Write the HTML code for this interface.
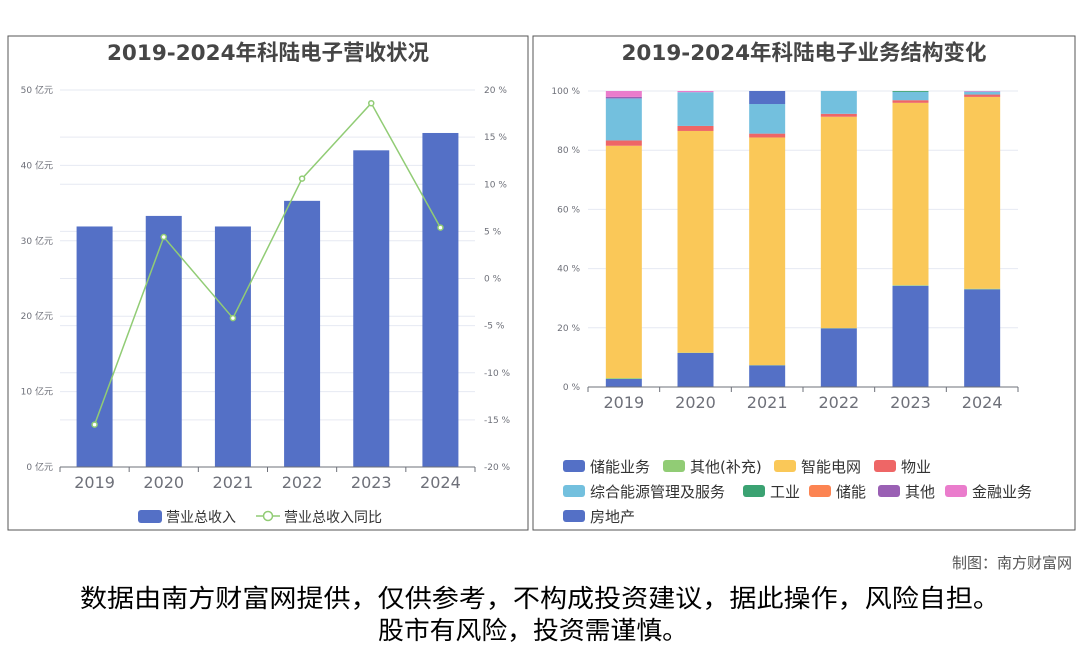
<!DOCTYPE html>
<html><head><meta charset="utf-8">
<style>
body{margin:0;width:1080px;height:646px;background:#fff;overflow:hidden;font-family:"DejaVu Sans","Noto Sans CJK SC",sans-serif;}
svg text{font-family:"DejaVu Sans","Noto Sans CJK SC",sans-serif;}
</style></head>
<body>
<svg id="s" width="1080" height="646">
<rect x="8" y="36" width="520" height="494" fill="none" stroke="#555" stroke-width="1"/>
<rect x="533" y="36" width="542" height="494" fill="none" stroke="#555" stroke-width="1"/>
<text x="268" y="60" text-anchor="middle" font-size="21.5" font-weight="bold" fill="#464646">2019-2024年科陆电子营收状况</text>
<text x="804" y="60" text-anchor="middle" font-size="21.5" font-weight="bold" fill="#464646">2019-2024年科陆电子业务结构变化</text>
<g id="L"></g><g id="R"></g>
<text x="1072" y="568" text-anchor="end" font-size="15" fill="#555">制图：南方财富网</text>
<text x="80" y="607" font-size="25" fill="#000" textLength="920" lengthAdjust="spacingAndGlyphs">数据由南方财富网提供，仅供参考，不构成投资建议，据此操作，风险自担。</text>
<text x="378" y="639" font-size="25" fill="#000" textLength="310" lengthAdjust="spacingAndGlyphs">股市有风险，投资需谨慎。</text>
</svg>
<script>
const years=["2019","2020","2021","2022","2023","2024"];
const revenue=[31.9,33.3,31.9,35.3,42.0,44.3];
const growth=[-15.5,4.4,-4.2,10.6,18.6,5.4];
const leftTicks=[0,10,20,30,40,50];
const rightTicks=[-20,-15,-10,-5,0,5,10,15,20];
const seriesNames=["储能业务","其他(补充)","智能电网","物业","综合能源管理及服务","工业","储能","其他","金融业务","房地产"];
const seriesColors=["#5470c6","#91cc75","#fac858","#ee6666","#73c0de","#3ba272","#fc8452","#9a60b4","#ea7ccc","#5470c6"];
const s_chuneng=[2.7,11.5,7.3,19.8,34.2,33.0];
const s_qitabc=[0.3,0.1,0.1,0.1,0.2,0.2];
const s_grid=[78.5,74.9,76.9,71.4,61.6,64.8];
const s_wuye=[1.8,1.7,1.3,1.0,0.9,0.8];
const s_energy=[14.2,11.4,10.0,7.7,2.8,1.0];
const s_gongye=[0,0,0,0,0.3,0];
const s_cn=[0,0,0,0,0,0];
const s_qita=[0.5,0,0,0,0,0];
const s_jinrong=[2.0,0.4,0,0,0,0.2];
const s_fangdichan=[0,0,4.4,0,0,0];
const pctTicks=[0,20,40,60,80,100];
const NS="http://www.w3.org/2000/svg";
function mk(p,t,a){const e=document.createElementNS(NS,t);for(const k in a)e.setAttribute(k,a[k]);p.appendChild(e);return e;}
const L=document.getElementById('L');
const lx0=60,lx1=475,ly0=467,ly1=90;
const ly=v=>ly0-(v/50)*(ly0-ly1);
const ry=v=>ly0-((v+20)/40)*(ly0-ly1);
const lbw=(lx1-lx0)/years.length;
const lcx=i=>lx0+lbw*(i+0.5);
rightTicks.forEach(t=>{const l=mk(L,'line',{x1:lx0,x2:lx1,y1:ry(t),y2:ry(t),stroke:'#e6e9f2'});
const tx=mk(L,'text',{x:484,y:ry(t)+3,'font-size':9,fill:'#6e7079'});tx.textContent=t+' %';});
leftTicks.forEach(t=>{const l=mk(L,'line',{x1:lx0,x2:lx1,y1:ly(t),y2:ly(t),stroke:'#e6e9f2'});
const tx=mk(L,'text',{x:53,y:ly(t)+3,'font-size':9,fill:'#6e7079','text-anchor':'end'});tx.textContent=t+' 亿元';});
years.forEach((y,i)=>{const r=mk(L,'rect',{x:lcx(i)-18,y:ly(revenue[i]),width:36,height:ly0-ly(revenue[i]),fill:'#5470c6'});

const t=mk(L,'text',{x:lcx(i),y:488,'font-size':16,fill:'#6e7079','text-anchor':'middle'});t.textContent=y;
mk(L,'line',{x1:lx0+lbw*i,x2:lx0+lbw*i,y1:ly0,y2:ly0+5,stroke:'#6e7079'});});
mk(L,'line',{x1:lx1,x2:lx1,y1:ly0,y2:ly0+5,stroke:'#6e7079'});
const ax=mk(L,'line',{x1:lx0,x2:lx1,y1:ly0,y2:ly0,stroke:'#6e7079'});
const pl=mk(L,'polyline',{points:growth.map((g,i)=>lcx(i)+','+ry(g)).join(' '),fill:'none',stroke:'#91cc75','stroke-width':1.5});

growth.forEach((g,i)=>{const c=mk(L,'circle',{cx:lcx(i),cy:ry(g),r:2.5,fill:'#fff',stroke:'#91cc75','stroke-width':1.5});});
let lg=mk(L,'rect',{x:138,y:510,width:24,height:13,rx:3,fill:'#5470c6'});
let lt=mk(L,'text',{x:166,y:522,'font-size':14,fill:'#333'});lt.textContent='营业总收入';
mk(L,'line',{x1:256,x2:280,y1:516,y2:516,stroke:'#91cc75','stroke-width':1.5});
mk(L,'circle',{cx:268,cy:516,r:4.5,fill:'#fff',stroke:'#91cc75','stroke-width':1.5});
lt=mk(L,'text',{x:284,y:522,'font-size':14,fill:'#333'});lt.textContent='营业总收入同比';
const R=document.getElementById('R');
const rx0=588,rx1=1018,py0=387,py1=91;
const py=v=>py0-(v/100)*(py0-py1);
const rbw=(rx1-rx0)/years.length;
const rcx=i=>rx0+rbw*(i+0.5);
pctTicks.forEach(t=>{const l=mk(R,'line',{x1:rx0,x2:rx1,y1:py(t),y2:py(t),stroke:'#e6e9f2'});
const tx=mk(R,'text',{x:580,y:py(t)+3,'font-size':9,fill:'#6e7079','text-anchor':'end'});tx.textContent=t+' %';});
const allSeries=[s_chuneng,s_qitabc,s_grid,s_wuye,s_energy,s_gongye,s_cn,s_qita,s_jinrong,s_fangdichan];
years.forEach((y,i)=>{let acc=0;allSeries.forEach((s,k)=>{const v=s[i];if(v>0){const r=mk(R,'rect',{x:rcx(i)-18,y:py(acc+v),width:36,height:py(acc)-py(acc+v),fill:seriesColors[k]});
}acc+=v;});
const t=mk(R,'text',{x:rcx(i),y:408,'font-size':16,fill:'#6e7079','text-anchor':'middle'});t.textContent=y;
mk(R,'line',{x1:rx0+rbw*i,x2:rx0+rbw*i,y1:py0,y2:py0+5,stroke:'#6e7079'});});
mk(R,'line',{x1:rx1,x2:rx1,y1:py0,y2:py0+5,stroke:'#6e7079'});
const ax2=mk(R,'line',{x1:rx0,x2:rx1,y1:py0,y2:py0,stroke:'#6e7079'});
const legendPos=[[563,466],[663,466],[774,466],[874,466],[563,491],[743,491],[809,491],[878,491],[945,491],[563,516]];
seriesNames.forEach((n,k)=>{const [x,y]=legendPos[k];
const r=mk(R,'rect',{x:x,y:y-6,width:22,height:12,rx:3,fill:seriesColors[k]});
const t=mk(R,'text',{x:x+27,y:y+6,'font-size':15,fill:'#333'});t.textContent=n;});
</script>
</body></html>
